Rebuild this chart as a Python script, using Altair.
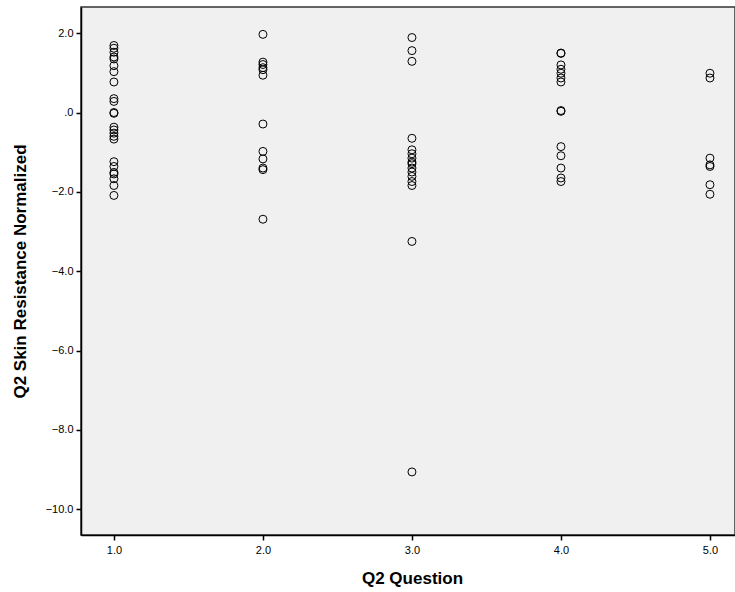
import altair as alt
import pandas as pd

q1 = [1.69, 1.62, 1.52, 1.40, 1.35, 1.18, 1.03, 0.77, 0.35, 0.28, 0.00, -0.02,
      -0.37, -0.44, -0.52, -0.60, -0.67, -1.24, -1.36, -1.51, -1.55, -1.67, -1.84, -2.09]
q2 = [1.97, 1.27, 1.21, 1.13, 1.08, 0.94, -0.29, -0.98, -1.17, -1.40, -1.44, -2.69]
q3 = [1.89, 1.56, 1.29, -0.65, -0.94, -1.04, -1.15, -1.25, -1.29, -1.40, -1.50,
      -1.61, -1.74, -1.84, -3.25, -9.06]
q4 = [1.50, 1.49, 1.20, 1.09, 0.99, 0.87, 0.77, 0.05, 0.03, -0.86, -1.09, -1.40,
      -1.65, -1.74]
q5 = [0.99, 0.87, -1.15, -1.32, -1.36, -1.82, -2.06]

questions = [1.0, 2.0, 3.0, 4.0, 5.0]
series = [q1, q2, q3, q4, q5]

rows = []
for q, vals in zip(questions, series):
    for v in vals:
        rows.append({"question": q, "value": v})
df = pd.DataFrame(rows)

y_ticks = [2, 0, -2, -4, -6, -8, -10]
x_ticks = [1, 2, 3, 4, 5]

font = "Liberation Sans"

chart = (
    alt.Chart(df)
    .mark_point(shape="circle", filled=False, color="black", strokeWidth=1, size=64, opacity=1)
    .encode(
        x=alt.X(
            "question:Q",
            scale=alt.Scale(domain=[0.779, 5.168], nice=False, zero=False),
            axis=alt.Axis(
                title="Q2 Question",
                values=x_ticks,
                labelExpr="format(datum.value, '.1f')",
                grid=False,
                domainColor="black",
                domainWidth=1.5,
                tickColor="black",
                tickWidth=1.5,
                tickSize=5,
                labelFont=font,
                labelFontSize=11,
                labelColor="black",
                labelPadding=4,
                titleFont=font,
                titleFontSize=17,
                titleFontWeight="bold",
                titleColor="black",
                titleX=331,
                titleY=48,
                titleBaseline="alphabetic",
            ),
        ),
        y=alt.Y(
            "value:Q",
            scale=alt.Scale(domain=[-10.65, 2.66], nice=False, zero=False),
            axis=alt.Axis(
                title="Q2 Skin Resistance Normalized",
                values=y_ticks,
                labelExpr="datum.value == 0 ? '.0' : format(datum.value, '.1f')",
                grid=False,
                domainColor="black",
                domainWidth=1.5,
                tickColor="black",
                tickWidth=1.5,
                tickSize=5,
                labelFont=font,
                labelFontSize=11,
                labelColor="black",
                labelPadding=3,
                titleFont=font,
                titleFontSize=17,
                titleFontWeight="bold",
                titleColor="black",
                titleX=-61,
                titleAngle=-90,
                titleBaseline="middle",
            ),
        ),
    )
    .properties(
        width=654,
        height=528,
        background="white",
        autosize=alt.AutoSizeParams(type="none"),
        padding={"left": 81, "top": 7, "right": 0, "bottom": 57},
    )
    .configure_view(fill="#f0f0f0", stroke="#333333", strokeWidth=1.5)
)

chart.save("out.html", embed_options={"renderer": "svg", "actions": False})
